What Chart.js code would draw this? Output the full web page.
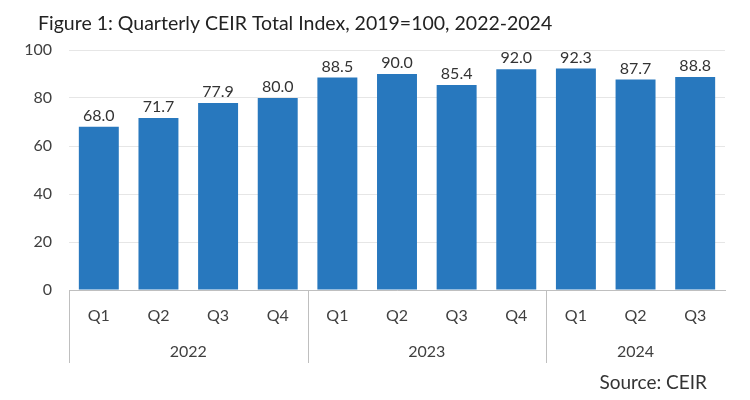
<!DOCTYPE html>
<html><head><meta charset="utf-8">
<script src="https://cdn.jsdelivr.net/npm/chart.js@4"></script>
<style>html,body{margin:0;padding:0;background:#fff}#wrap{width:750px;height:400px}</style>
</head><body><div id="wrap"><canvas id="c" width="750" height="400"></canvas></div>
<script>
const quarters = ["Q1","Q2","Q3","Q4","Q1","Q2","Q3","Q4","Q1","Q2","Q3"];
const years = ["2022","2023","2024"];
const yearSizes = [4,4,3];
const values = [68.0,71.7,77.9,80.0,88.5,90.0,85.4,92.0,92.3,87.7,88.8];
const yTicks = [0,20,40,60,80,100];
const titleText = "Figure 1: Quarterly CEIR Total Index, 2019=100, 2022-2024";
const sourceText = "Source: CEIR";

const FONT = "Lato, 'Open Sans', sans-serif";
const groupPlugin = {
  id: 'groups',
  afterDraw(chart) {
    const ctx = chart.ctx, x = chart.scales.x, ca = chart.chartArea;
    ctx.save();
    // title
    ctx.font = "19.5px " + FONT;
    ctx.fillStyle = "#222";
    ctx.textAlign = "left";
    ctx.textBaseline = "alphabetic";
    ctx.fillText(titleText, 38, 30);
    // value labels
    const meta = chart.getDatasetMeta(0);
    ctx.font = "16px " + FONT;
    ctx.fillStyle = "#333";
    ctx.textAlign = "center";
    ctx.textBaseline = "bottom";
    meta.data.forEach((bar, i) => {
      ctx.fillText(values[i].toFixed(1), bar.x, bar.y - 3);
    });
    // group separators and year labels
    ctx.strokeStyle = "#bfbfbf";
    ctx.lineWidth = 1;
    let start = 0;
    const bottomLine = ca.bottom + 73;
    ctx.font = "16px " + FONT;
    ctx.fillStyle = "#404040";
    ctx.textBaseline = "middle";
    yearSizes.forEach((n, g) => {
      const l = start === 0 ? ca.left : (x.getPixelForValue(start - 1) + x.getPixelForValue(start)) / 2;
      const endIdx = start + n - 1;
      const r = endIdx === quarters.length - 1 ? ca.right : (x.getPixelForValue(endIdx) + x.getPixelForValue(endIdx + 1)) / 2;
      const px = Math.round(l) + 0.5;
      ctx.beginPath(); ctx.moveTo(px, ca.bottom); ctx.lineTo(px, bottomLine); ctx.stroke();
      ctx.fillText(years[g], (l + r) / 2, ca.bottom + 62);
      start += n;
    });
    // source
    ctx.font = "19px " + FONT;
    ctx.fillStyle = "#333";
    ctx.textAlign = "right";
    ctx.fillText(sourceText, 707, 383);
    ctx.restore();
  }
};

new Chart(document.getElementById('c'), {
  type: 'bar',
  data: {
    labels: quarters,
    datasets: [{ data: values, backgroundColor: '#2878be', barPercentage: 0.67, categoryPercentage: 1.0 }]
  },
  options: {
    responsive: false,
    animation: false,
    layout: { padding: { left: 10, right: 25, top: 50, bottom: 35 } },
    plugins: {
      legend: { display: false },
      tooltip: { enabled: false },
      title: { display: false }
    },
    scales: {
      x: {
        grid: { display: false, drawTicks: false },
        border: { color: '#bfbfbf', width: 1 },
        ticks: { color: '#404040', font: { family: FONT, size: 16 }, padding: 16, maxRotation: 0 },
        afterFit(s) { s.height = 75; }
      },
      y: {
        min: 0, max: 100,
        afterBuildTicks(s) { s.ticks = yTicks.map(v => ({ value: v })); },
        grid: { color: '#e6e6e6', drawTicks: false },
        border: { display: false },
        ticks: { color: '#404040', font: { family: FONT, size: 16 }, padding: 17 },
        afterFit(s) { s.width = 59; }
      }
    }
  },
  plugins: [groupPlugin]
});
</script></body></html>
